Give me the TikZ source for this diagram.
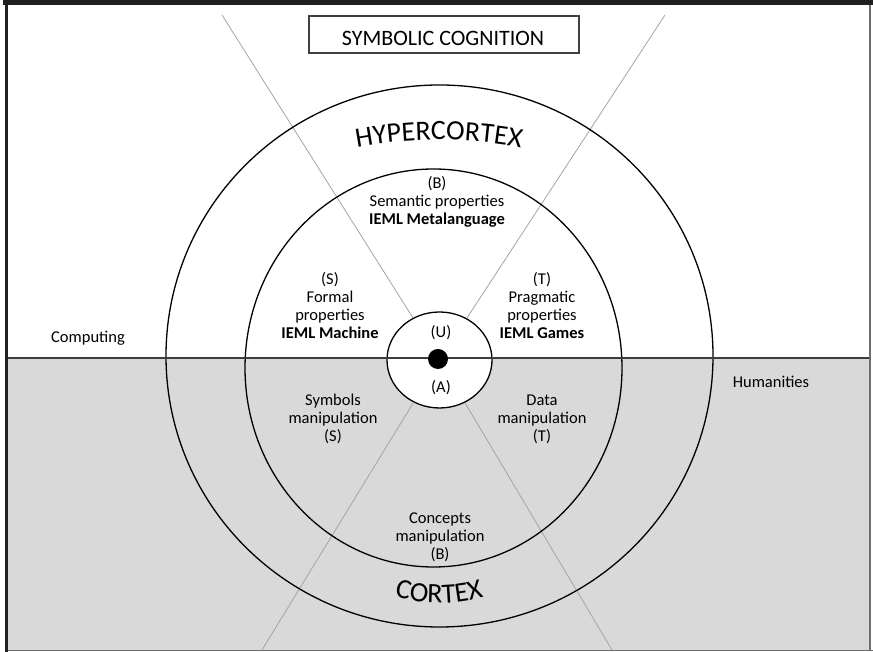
\documentclass[tikz,border=0pt]{standalone}
\usepackage{fontspec}
\setmainfont{Carlito}
\usetikzlibrary{decorations.text,shapes.geometric}
\definecolor{lowergray}{RGB}{217,217,217}
\definecolor{framedark}{RGB}{32,32,32}
\definecolor{framegray}{RGB}{110,110,110}
\definecolor{raygray}{RGB}{165,165,165}
\definecolor{hlinegray}{RGB}{60,60,60}
\begin{document}
\begin{tikzpicture}[x=1pt,y=1pt,
  ring/.style={ellipse, draw=black, line width=1.3, inner sep=0},
  ray/.style={draw=raygray, line width=0.8},
  hline/.style={draw=hlinegray, line width=1.8},
  lbl/.style={font=\fontsize{16.5}{18}\selectfont, align=center, inner sep=0},
  titlebox/.style={draw=black!75, line width=1.3, minimum width=270, minimum height=37, inner sep=0},
  titletext/.style={font=\fontsize{22}{24}\selectfont, inner sep=0},
]
\useasboundingbox (0,0) rectangle (873,652);
\fill[white] (0,0) rectangle (873,652);

% lower half (humanities side) shaded
\fill[lowergray] (8,2) rectangle (870,294);

% centre ring, rays and the two outer rings
\node[ring, fill=white, minimum width=105, minimum height=96] (inner) at (439.5,292) {};
\coordinate (ul) at (222,637);
\coordinate (ur) at (665,637);
\coordinate (ll) at (262,2);
\coordinate (lr) at (612,2);
\draw[ray] (inner) -- (ul);
\draw[ray] (inner) -- (ur);
\draw[ray] (inner) -- (ll);
\draw[ray] (inner) -- (lr);
\node[ring, minimum width=547, minimum height=542] (outer) at (439.5,296) {};
\node[ring, minimum width=377, minimum height=398] (middle) at (433.5,284) {};

% horizon between computing and humanities
\coordinate (hl) at (8,294);
\coordinate (hr) at (870,294);
\draw[hline] (hl) -- (hr);
\node[circle, fill=black, minimum size=20, inner sep=0] (dot) at (438,293) {};

% frame
\fill[framedark] (3,647) rectangle (873,652);
\fill[framedark] (5,0) rectangle (8,652);
\draw[framegray, line width=1.5] (870,647) -- (870,2);
\draw[framegray, line width=1.5] (8,1.5) -- (873,1.5);

% title
\node[titlebox] (titlebox) at (444,617.5) {};
\node[titletext] (title) at (443,614) {SYMBOLIC COGNITION};

% curved ring names
\coordinate (hcc) at (439,62);
\path[decorate, decoration={text along path, text align=center,
  text={|\fontsize{28}{28}\selectfont|HYPERCORTEX}}]
  ([shift={(110:450)}]hcc) arc[start angle=110, end angle=70, radius=450];
\coordinate (ccc) at (439,209);
\path[decorate, decoration={text along path, text align=center,
  text={|\fontsize{28}{28}\selectfont|CORTEX}}]
  ([shift={(240:160)}]ccc) arc[start angle=240, end angle=300, radius=160];

% sector labels
\node[lbl] (bup) at (437,450) {(B)\\Semantic properties\\\textbf{IEML Metalanguage}};
\node[lbl] (sup) at (330,346) {(S)\\Formal\\properties\\\textbf{IEML Machine}};
\node[lbl] (tup) at (542,346) {(T)\\Pragmatic\\properties\\\textbf{IEML Games}};
\node[lbl] (u) at (441,319) {(U)};
\node[lbl] (a) at (441,264) {(A)};
\node[lbl] (sdown) at (333,233) {Symbols\\manipulation\\(S)};
\node[lbl] (tdown) at (542,233) {Data\\manipulation\\(T)};
\node[lbl] (bdown) at (440,115) {Concepts\\manipulation\\(B)};
\node[lbl] (computing) at (88,314) {Computing};
\node[lbl] (humanities) at (771,270) {Humanities};
\end{tikzpicture}
\end{document}
